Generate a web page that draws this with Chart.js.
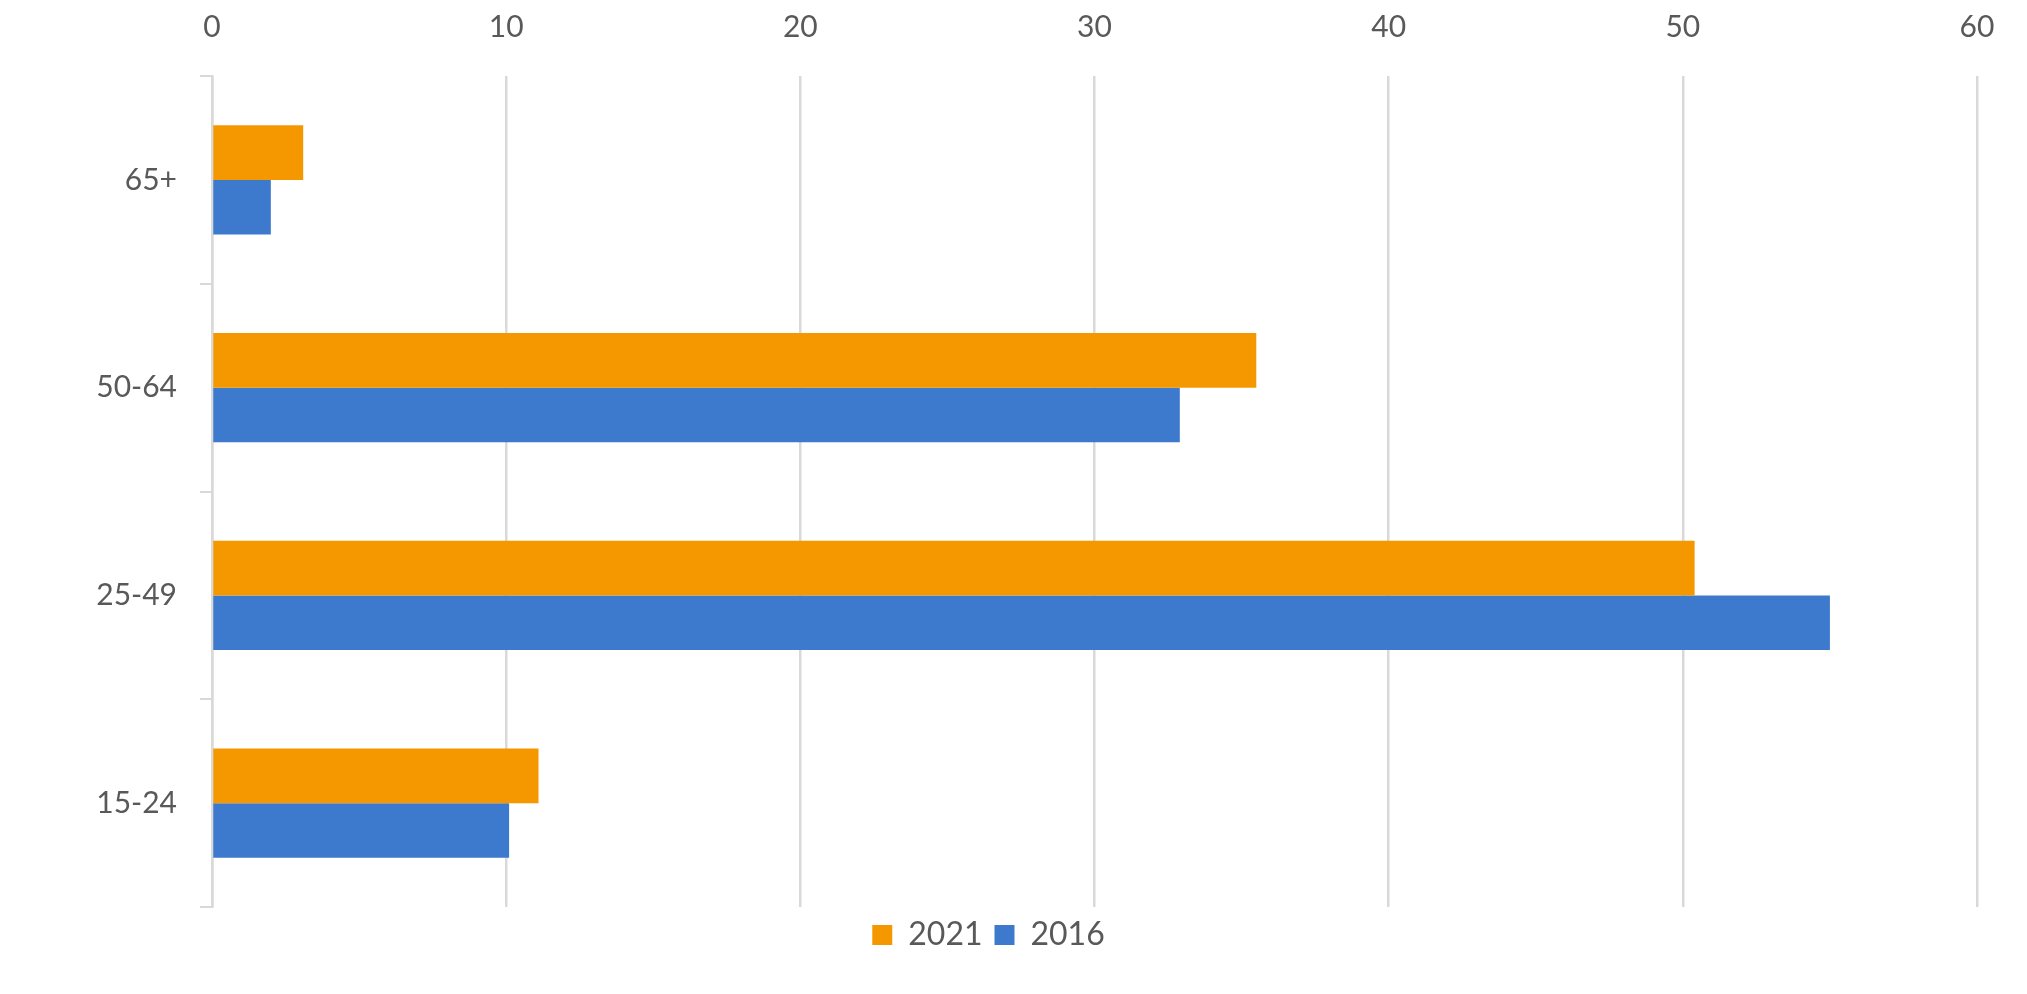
<!DOCTYPE html>
<html>

<head>
  <title>Age groups 2016 / 2021</title>
  <script src="https://cdn.jsdelivr.net/npm/chart.js"></script>
  <style>
    html, body {
      margin: 0;
      padding: 0;
      background: #fff;
    }
    .chart-container {
      position: relative;
      width: 2027px;
      height: 994px;
    }
  </style>
</head>

<body>
  <div class="chart-container">
    <canvas id="myChart"></canvas>
  </div>
  <script>
    const ageGroups = ['65+', '50-64', '25-49', '15-24'];
    const values2021 = [3.1, 35.5, 50.4, 11.1];
    const values2016 = [2.0, 32.9, 55.0, 10.1];
    const axisMin = 0;
    const axisMax = 60;
    const axisStep = 10;

    const textColor = '#595959';
    const gridColor = '#d9d9d9';

    Chart.defaults.font.family = 'Lato, "Open Sans", sans-serif';
    Chart.defaults.color = textColor;

    new Chart(document.getElementById('myChart').getContext('2d'), {
      type: 'bar',
      data: {
        labels: ageGroups,
        datasets: [
          { label: '2021', data: values2021, backgroundColor: '#f59800' },
          { label: '2016', data: values2016, backgroundColor: '#3d7ace' }
        ]
      },
      options: {
        indexAxis: 'y',
        animation: false,
        responsive: true,
        maintainAspectRatio: false,
        datasets: {
          bar: { categoryPercentage: 0.525, barPercentage: 1.0 }
        },
        layout: { padding: { left: 0, right: 50, top: 0, bottom: 33 } },
        plugins: {
          tooltip: { enabled: false },
          legend: {
            position: 'bottom',
            labels: {
              boxWidth: 20,
              boxHeight: 20,
              padding: 12,
              color: textColor,
              font: { size: 32 }
            }
          }
        },
        scales: {
          x: {
            position: 'top',
            min: axisMin,
            max: axisMax,
            ticks: { stepSize: axisStep, padding: 31, font: { size: 30 }, color: textColor },
            grid: { color: gridColor, lineWidth: 2.5, drawTicks: false },
            border: { display: false },
            afterFit: s => { s.height = 76; }
          },
          y: {
            ticks: { padding: 23, font: { size: 30 }, color: textColor },
            grid: { drawOnChartArea: false, drawTicks: true, tickLength: 12, color: gridColor, lineWidth: 2 },
            border: { display: true, color: gridColor, width: 2.5 },
            afterFit: s => { s.width = 212; }
          }
        }
      }
    });
  </script>
</body>

</html>
